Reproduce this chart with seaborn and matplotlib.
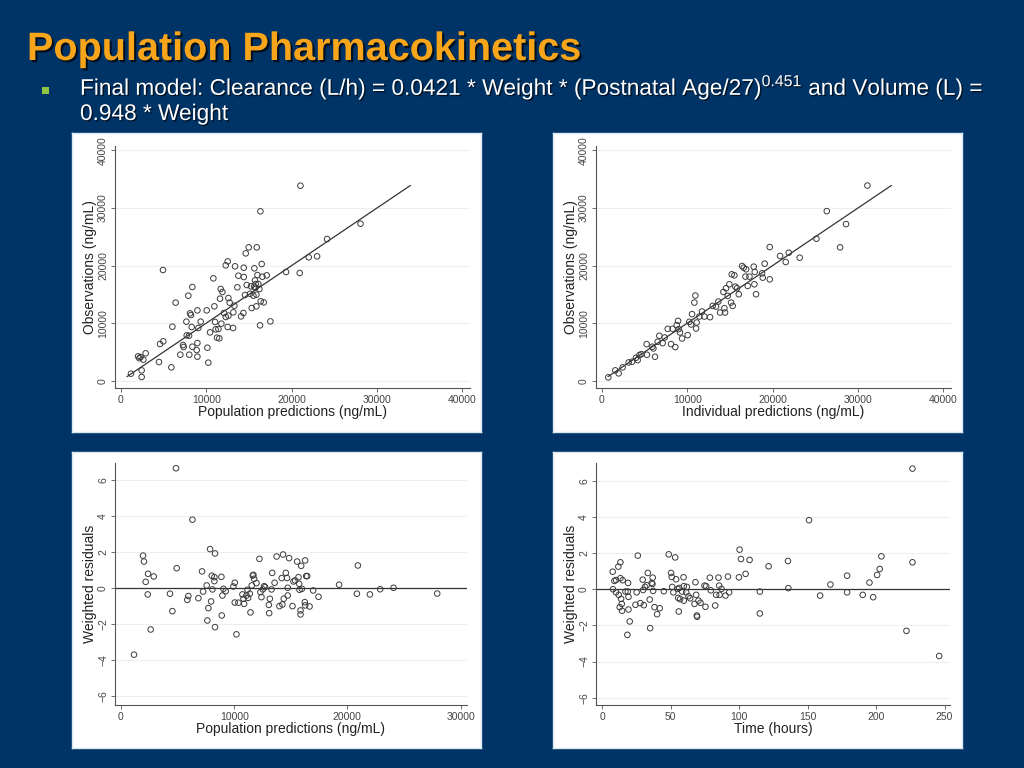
import numpy as np
import pandas as pd
import seaborn as sns
import matplotlib.pyplot as plt
import matplotlib.patheffects as pe
from matplotlib.patches import Rectangle

# ---- data ----
pred_pop = [1170, 2000, 2150, 2300, 2890, 2620, 2420, 2420, 4450, 4570, 4960, 4920,
            5900, 6020, 6400, 6950, 7270, 7340, 7660, 7700, 7890, 7970, 8000, 8090,
            8200, 8280, 8360, 8360, 8870, 8950, 8950, 8950, 9060, 9340, 10040, 10120,
            10230, 10430, 10820, 10940, 11020, 11090, 11250, 11410, 11520, 11600, 11680,
            11760, 11880, 12070, 12270, 12270, 12500, 12500, 12580, 12580, 12730, 13130,
            13160, 13280, 13360, 13630, 13750, 14060, 14340, 14380, 14380, 14530, 14610,
            14730, 14960, 15120, 15230, 15310, 15510, 15590, 15620, 15700, 15740, 15780,
            15860, 15860, 15900, 15980, 16090, 16210, 16290, 16330, 16370, 16480, 16560,
            16720, 17070, 17500, 19340, 20940, 21020, 21990, 22970, 24140, 28050]
obs_pop = [1216, 4225, 3900, 4100, 4750, 3650, 1790, 640, 3240, 6370, 6830, 19220,
           2315, 9380, 13550, 4515, 6190, 5850, 10250, 7870, 14760, 7810, 4515, 11690,
           11400, 9320, 16270, 5900, 5320, 12210, 4170, 6540, 9150, 10250, 12210, 5730,
           3130, 8390, 17770, 12910, 10190, 8910, 7470, 8970, 7350, 14240, 15920,
           9900, 15400, 11750, 20030, 11060, 20720, 9320, 14350, 11290, 13550, 9150,
           11870, 13020, 19860, 16210, 18230, 11170, 11750, 18000, 19620, 14880, 22110,
           16610, 23150, 15100, 16380, 12620, 14760, 16320, 19510, 17420, 16150, 16790,
           12910, 14930, 23150, 18350, 16790, 15920, 9610, 29410, 13780, 20260, 18060,
           13600, 18290, 10300, 18870, 18700, 33860, 21420, 21590, 24600, 27260]

pred_ind = [740, 1560, 1950, 2420, 3120, 3520, 3980, 4180, 4380, 4610, 5230, 5270,
            5900, 6020, 6210, 6520, 6720, 7110, 7340, 7700, 8090, 8280, 8590, 8750,
            8910, 8980, 9140, 9380, 10040, 10230, 10430, 10550, 10820, 10940, 11020,
            11090, 11410, 11720, 11990, 12660, 12970, 13360, 13630, 13830, 14340, 14410,
            14220, 14530, 14730, 14920, 15120, 15200, 15310, 15510, 15620, 15820, 16020,
            16410, 16600, 16800, 16880, 17070, 17270, 17770, 17850, 18050, 17890, 18750,
            18830, 19060, 19650, 19650, 20860, 21520, 21880, 23160, 25120, 26330, 27890,
            28590, 31090]
obs_ind = [580, 1790, 1270, 2310, 3170, 3290, 3980, 3580, 4440, 4610, 6350, 4500,
           5890, 5600, 4160, 6760, 7800, 6520, 7500, 9000, 6350, 9000, 5830, 9640,
           10390, 8950, 8370, 7330, 7910, 10220, 9760, 11550, 13560, 14780, 9060,
           10100, 11140, 12010, 11140, 11030, 12990, 12870, 13740, 11830, 12580, 11830,
           15410, 16050, 14720, 16740, 13560, 18470, 12990, 18300, 16330, 16050, 15010,
           19910, 19620, 18070, 19340, 16450, 18070, 19800, 16740, 15010, 18880, 18640,
           17890, 20320, 23200, 17600, 21650, 20610, 22220, 21360, 24650, 29440, 23150,
           27190, 33880]

wres_pred = [1150, 1950, 2030, 2180, 2390, 2360, 2620, 2890, 4330, 4540, 4860, 4920,
             5860, 5950, 6310, 6840, 7160, 7250, 7570, 7630, 7720, 7870, 7960, 8020,
             8080, 8250, 8310, 8310, 8250, 8870, 8900, 8960, 9050, 9250, 9930, 10050,
             10050, 10200, 10370, 10730, 10820, 10880, 11080, 11170, 11230, 11380, 11440,
             11550, 11640, 11700, 11760, 11970, 12230, 12320, 12410, 12530, 12650, 12730,
             13060, 13090, 13150, 13300, 13360, 13570, 13750, 14000, 14200, 14260, 14320,
             14380, 14560, 14670, 14730, 14730, 14850, 15150, 15240, 15380, 15560, 15680,
             15740, 15770, 15860, 15860, 15920, 15980, 16240, 16270, 16360, 16450, 16270,
             16660, 16980, 17450, 19270, 20840, 20930, 21990, 22900, 24080, 27940]
wres_a = [-3.70, 1.81, 1.48, 0.35, 0.80, -0.35, -2.30, 0.65, -0.31, -1.28, 6.67, 1.11,
          -0.65, -0.44, 3.81, -0.56, 0.93, -0.19, 0.15, -1.80, -1.11, 2.17, -0.74, 0.69,
          -0.07, 0.61, 1.93, -2.17, 0.39, 0.63, -1.52, -0.41, -0.04, -0.17, 0.09, 0.30,
          -0.80, -2.57, -0.81, -0.35, -0.59, -0.87, -0.41, -0.09, -0.54, -0.31, -1.35,
          0.15, 0.70, 0.74, 0.52, 0.28, 1.63, -0.22, -0.50, -0.07, 0.11, 0.06,
          -0.93, -1.39, -0.59, -0.07, 0.85, 0.30, 1.76, -1.00, 0.56, -0.91, 1.87,
          -0.59, 0.85, 0.56, -0.41, 0.02, 1.67, -1.00, 0.37, 0.43, 1.48, 0.61,
          0.24, -0.09, -1.24, -1.46, 1.24, -0.04, -0.78, 1.54, 0.67, 0.67, -0.96,
          -1.02, -0.13, -0.48, 0.19, -0.31, 1.26, -0.35, -0.06, 0.02, -0.30]

time_h = [7.8, 8.0, 9.0, 10.2, 10.2, 11.9, 12.2, 13.4, 12.9, 13.4, 13.9, 14.4, 14.6,
          15.1, 17.1, 18.5, 19.0, 19.3, 19.3, 18.8, 20.2, 24.4, 25.3, 26.1, 28.0, 29.7,
          30.0, 30.5, 31.4, 32.6, 33.4, 34.8, 35.1, 36.3, 36.8, 37.0, 37.3, 38.3, 40.2,
          42.1, 45.1, 48.7, 50.4, 50.9, 51.2, 52.1, 53.4, 54.1, 55.1, 55.6, 56.0, 56.3,
          57.0, 58.5, 59.5, 59.7, 59.7, 61.4, 61.9, 63.1, 64.3, 67.5, 68.2, 68.7, 69.2,
          69.4, 70.4, 71.9, 74.8, 76.0, 75.5, 78.7, 79.4, 82.6, 83.3, 85.0, 85.5, 85.8,
          87.2, 90.1, 91.9, 92.8, 99.9, 100.4, 101.4, 104.8, 107.7, 115.2, 115.2, 121.6,
          135.7, 136.0, 151.1, 159.2, 166.7, 178.9, 178.9, 190.3, 195.2, 197.9, 200.8,
          202.7, 203.9, 222.2, 226.6, 226.6, 246.1]
wres_b = [0.97, 0.00, 0.46, 0.51, -0.17, 1.25, -0.31, 1.49, -0.99, 0.61, -0.53, -0.81,
          -1.19, 0.50, -0.13, -2.52, 0.35, -0.42, -1.12, -0.13, -1.78, -0.86, -0.17,
          1.86, -0.77, 0.53, -0.04, -0.88, 0.13, 0.22, 0.90, -0.57, -2.15, 0.35, 0.29,
          0.64, -0.09, -0.99, -1.38, -1.05, -0.11, 1.93, 0.90, 0.68, 0.13, -0.17, 1.76,
          0.55, 0.02, -0.48, -1.23, 0.07, -0.55, -0.13, 0.66, 0.17, -0.63, -0.17, 0.13,
          -0.39, -0.50, -0.81, 0.39, -0.31, -1.45, -1.52, -0.63, -0.75, 0.20, 0.17,
          -0.97, 0.64, -0.06, -0.90, -0.31, 0.64, 0.20, -0.31, 0.02, -0.35, 0.70, -0.17,
          0.66, 2.19, 1.67, 0.85, 1.62, -0.13, -1.34, 1.27, 1.56, 0.06, 3.82, -0.35,
          0.26, 0.75, -0.17, -0.31, 0.37, -0.44, 0.79, 1.12, 1.82, -2.30, 6.67, 1.49,
          -3.69]

identity_range = [700, 33900]

title_text = "Population Pharmacokinetics"
line1_text = (r"Final model: Clearance (L/h) = 0.0421 * Weight * (Postnatal Age/27)"
              r"$^{\mathrm{0.451}}$ and Volume (L) =")
line2_text = "0.948 * Weight"

bg_color = "#003366"
title_color = "#F9A51A"
bullet_color = "#8DC63F"
mark_color = "#3a3a3a"

sns.set_style("white")
plt.rcParams['font.family'] = ['Liberation Sans', 'DejaVu Sans']
plt.rcParams['mathtext.fontset'] = 'custom'
plt.rcParams['mathtext.rm'] = 'Liberation Sans'

W, H = 1024, 768
fig = plt.figure(figsize=(W / 100, H / 100), dpi=100, facecolor=bg_color)


def px_axes(left, top, right, bottom, **kw):
    return fig.add_axes([left / W, 1 - bottom / H, (right - left) / W, (bottom - top) / H], **kw)


def panel(box, inner):
    # white panel behind each Stata graph
    bg = px_axes(*box)
    bg.set_facecolor("white")
    bg.set_xticks([])
    bg.set_yticks([])
    for s in bg.spines.values():
        s.set_color("#d8e8f0")
        s.set_linewidth(1.0)
    ax = px_axes(*inner)
    ax.patch.set_alpha(0)
    return ax


def style_axes(ax, xlim, ylim, xticks, yticks, xlabel, ylabel):
    ax.set_xlim(xlim)
    ax.set_ylim(ylim)
    ax.set_xticks(xticks)
    ax.set_yticks(yticks)
    for s in ['top', 'right']:
        ax.spines[s].set_visible(False)
    for s in ['left', 'bottom']:
        ax.spines[s].set_color("#555555")
        ax.spines[s].set_linewidth(0.8)
    ax.tick_params(axis='both', direction='out', length=3, width=0.6, color="#555555",
                   labelsize=7.5, labelcolor="#444444", pad=2, left=True, bottom=True)
    plt.setp(ax.get_yticklabels(), rotation=90, va='center')
    ax.yaxis.grid(True, color="#e8f0f2", linewidth=0.8)
    ax.xaxis.grid(False)
    ax.set_axisbelow(True)
    ax.set_xlabel(xlabel, fontsize=10, color="#222222", labelpad=0)
    ax.set_ylabel(ylabel, fontsize=10, color="#222222", labelpad=1)


def scatter(ax, x, y):
    df = pd.DataFrame({'x': x, 'y': y})
    sns.scatterplot(data=df, x='x', y='y', ax=ax, marker='o', s=16,
                    facecolor='none', edgecolor=mark_color, linewidth=0.7, zorder=3)


# observed vs population predictions
ax1 = panel((72, 133, 481, 432), (115, 146, 470, 388))
scatter(ax1, pred_pop, obs_pop)
sns.lineplot(x=identity_range, y=identity_range, ax=ax1, color="#333333", linewidth=0.9)
style_axes(ax1, (-700, 40880), (-1270, 40750), range(0, 40001, 10000), range(0, 40001, 10000),
           "Population predictions (ng/mL)", "Observations (ng/mL)")

# observed vs individual predictions
ax2 = panel((553, 133, 962, 432), (596, 146, 951, 388))
scatter(ax2, pred_ind, obs_ind)
sns.lineplot(x=identity_range, y=identity_range, ax=ax2, color="#333333", linewidth=0.9)
style_axes(ax2, (-700, 40880), (-1270, 40750), range(0, 40001, 10000), range(0, 40001, 10000),
           "Individual predictions (ng/mL)", "Observations (ng/mL)")

# weighted residuals vs population predictions
ax3 = panel((72, 452, 481, 748), (115, 463, 467, 705))
scatter(ax3, wres_pred, wres_a)
ax3.axhline(0, color="#333333", linewidth=0.9, zorder=2)
style_axes(ax3, (-530, 30570), (-6.5, 6.96), range(0, 30001, 10000), range(-6, 7, 2),
           "Population predictions (ng/mL)", "Weighted residuals")

# weighted residuals vs time
ax4 = panel((553, 452, 962, 748), (596, 463, 950, 705))
scatter(ax4, time_h, wres_b)
ax4.axhline(0, color="#333333", linewidth=0.9, zorder=2)
style_axes(ax4, (-4.4, 254), (-6.4, 6.98), range(0, 251, 50), range(-6, 7, 2),
           "Time (hours)", "Weighted residuals")

for ax in (ax1, ax2, ax3, ax4):
    if ax.get_legend() is not None:
        ax.get_legend().remove()

# slide header
shadow = [pe.SimplePatchShadow(offset=(1.5, -1.5), shadow_rgbFace='black', alpha=0.7), pe.Normal()]
fig.text(27 / W, 1 - 60 / H, title_text, fontsize=28.5, fontweight='bold', color=title_color,
         va='baseline', ha='left', path_effects=shadow)
fig.patches.append(Rectangle((42 / W, 1 - 94 / H), 7 / W, 7 / H, transform=fig.transFigure,
                             facecolor=bullet_color, edgecolor='none'))
small_shadow = [pe.SimplePatchShadow(offset=(1, -1), shadow_rgbFace='black', alpha=0.6), pe.Normal()]
fig.text(80 / W, 1 - 95 / H, line1_text, fontsize=16.3, color='white', va='baseline', ha='left',
         path_effects=small_shadow)
fig.text(80 / W, 1 - 120 / H, line2_text, fontsize=16.3, color='white', va='baseline', ha='left',
         path_effects=small_shadow)

fig.savefig("out.png", dpi=100, facecolor=bg_color)
